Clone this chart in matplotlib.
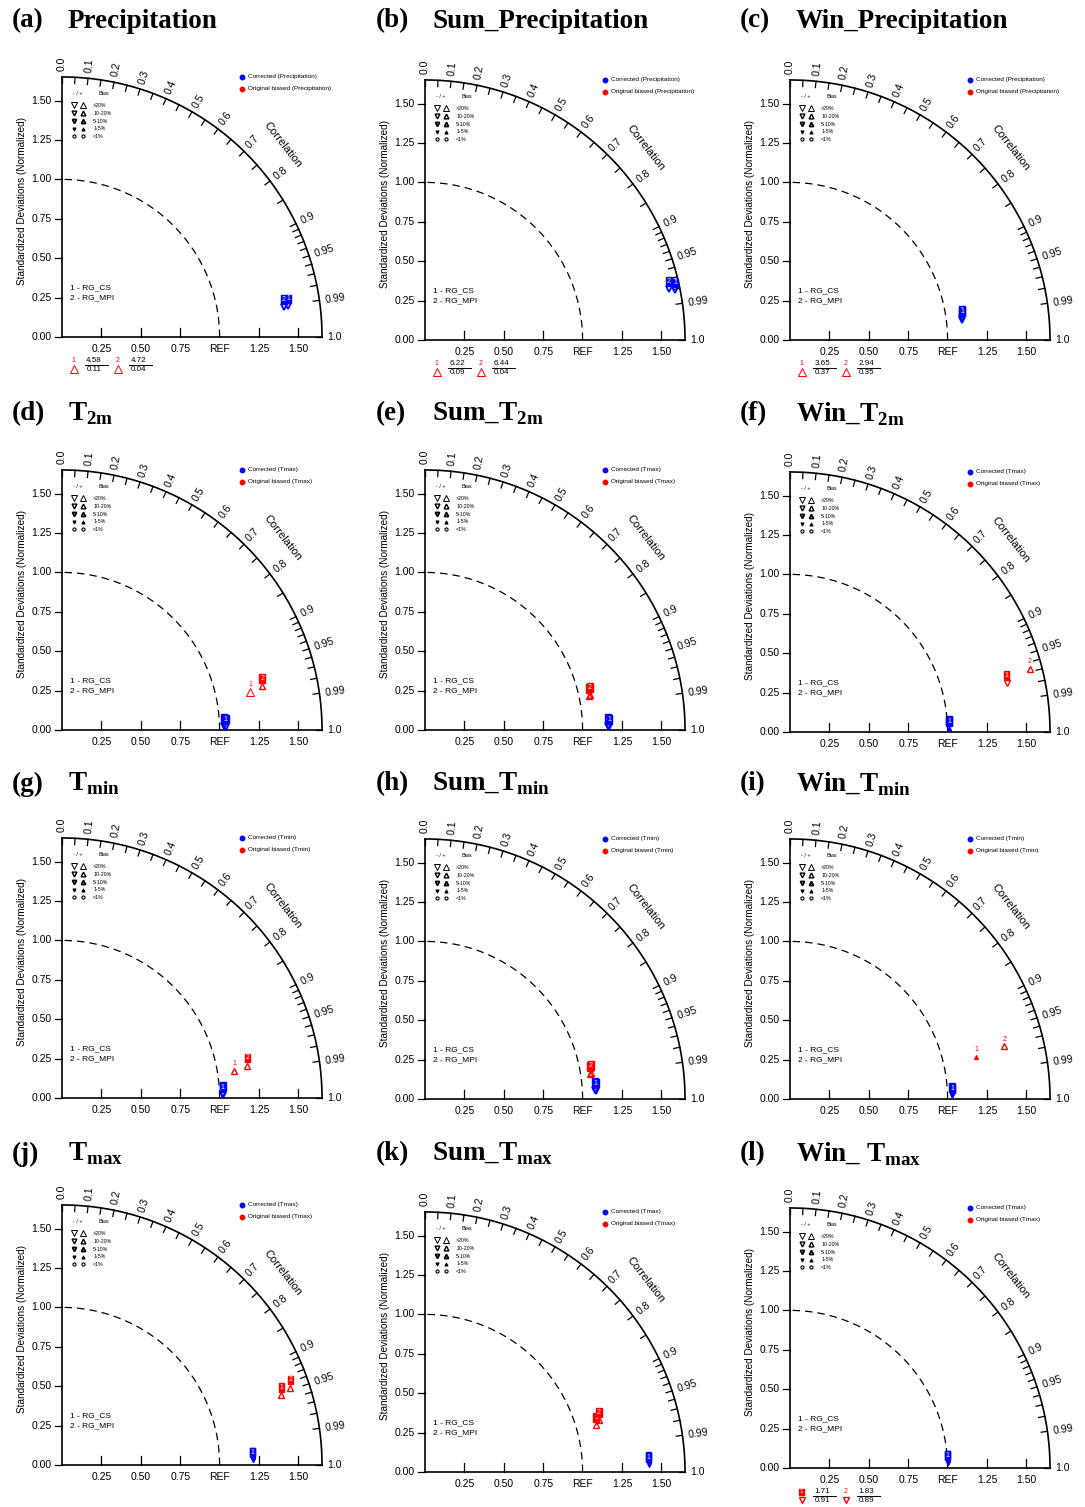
import numpy as np
import matplotlib.pyplot as plt

plt.rcParams['font.family'] = ['Liberation Sans', 'DejaVu Sans']
plt.rcParams['mathtext.fontset'] = 'custom'
plt.rcParams['mathtext.rm'] = 'Liberation Serif:bold'
plt.rcParams['mathtext.bf'] = 'Liberation Serif:bold'

W, H = 1085, 1507
S = 157.6          # pixels per unit of normalized std
RMAX = 1.65

letters = ['(a)', '(b)', '(c)', '(d)', '(e)', '(f)',
           '(g)', '(h)', '(i)', '(j)', '(k)', '(l)']
titles = ['Precipitation', 'Sum_Precipitation', 'Win_Precipitation',
          r'$\mathbf{T}_{\mathbf{2m}}$', r'Sum_$\mathbf{T}_{\mathbf{2m}}$', r'Win_$\mathbf{T}_{\mathbf{2m}}$',
          r'$\mathbf{T}_{\mathbf{min}}$', r'Sum_$\mathbf{T}_{\mathbf{min}}$', r'Win_$\mathbf{T}_{\mathbf{min}}$',
          r'$\mathbf{T}_{\mathbf{max}}$', r'Sum_$\mathbf{T}_{\mathbf{max}}$', r'Win_ $\mathbf{T}_{\mathbf{max}}$']
varnames = ['Precipitation'] * 3 + ['Tmax'] * 3 + ['Tmin'] * 3 + ['Tmax'] * 3
cases = ['RG_CS', 'RG_MPI']

# corrected (blue): normalized std, correlation, bias %
blue_std = [[1.45, 1.42], [1.62, 1.58], [1.10, 1.10],
            [1.04, 1.03], [1.17, 1.16], [1.01, 1.01],
            [1.02, 1.02], [1.085, 1.08], [1.03, 1.03],
            [1.21, 1.21], [1.42, 1.42], [1.00, 1.00]]
blue_cc = [[0.991, 0.991], [0.981, 0.979], [0.993, 0.992],
           [0.9998, 0.9997], [0.9999, 0.9998], [0.9998, 0.9997],
           [0.9998, 0.9997], [0.9988, 0.9985], [0.9998, 0.9997],
           [0.9997, 0.9996], [0.9995, 0.9994], [0.9995, 0.9994]]
blue_bias = [[-7, -7], [-7, -7], [-7, -7],
             [-8, -8], [-8, -8], [3, 3],
             [-8, -8], [-8, -8], [-3, -3],
             [-3, -3], [-3, -3], [-3, -3]]

# original biased (red)
red_std = [[4.58, 4.72], [6.22, 6.44], [3.65, 2.94],
           [1.22, 1.30], [1.06, 1.07], [1.41, 1.575],
           [1.107, 1.194], [1.06, 1.065], [1.21, 1.40],
           [1.46, 1.53], [1.126, 1.152], [1.71, 1.83]]
red_cc = [[0.11, 0.04], [0.09, 0.04], [0.37, 0.35],
          [0.980, 0.977], [0.979, 0.978], [0.975, 0.967],
          [0.988, 0.985], [0.989, 0.988], [0.975, 0.971],
          [0.953, 0.947], [0.964, 0.958], [0.91, 0.89]]
red_bias = [[45, 50], [40, 45], [30, 30],
            [22, 12], [15, 15], [-15, 15],
            [15, 12], [15, 15], [3, 15],
            [15, 15], [15, 15], [-15, -15]]
red_boxed = [[False, False], [False, False], [False, False],
             [False, True], [True, True], [True, False],
             [False, True], [True, True], [False, False],
             [True, True], [True, True], [True, False]]

# origin of each diagram in pixels (x from left, y from top)
origins = [(62, 337), (425, 340), (790, 340),
           (62, 730), (425, 730), (790, 732),
           (62, 1098), (425, 1099), (790, 1099),
           (62, 1465), (425, 1472), (790, 1468)]

std_ticks = [0.0, 0.25, 0.5, 0.75, 1.0, 1.25, 1.5]
x_ticks = [0.25, 0.5, 0.75, 1.0, 1.25, 1.5]
x_labels = ['0.25', '0.50', '0.75', 'REF', '1.25', '1.50']
cc_major = [0.0, 0.1, 0.2, 0.3, 0.4, 0.5, 0.6, 0.7, 0.8, 0.9, 0.95, 0.99, 1.0]
cc_labels = ['0.0', '0.1', '0.2', '0.3', '0.4', '0.5', '0.6', '0.7', '0.8', '0.9', '0.95', '0.99', '1.0']
cc_minor = [0.05, 0.15, 0.25, 0.35, 0.45, 0.55, 0.65, 0.75, 0.85,
            0.91, 0.92, 0.93, 0.94, 0.96, 0.97, 0.98]

bias_rows = ['>20%', '10-20%', '5-10%', '1-5%', '<1%']
bias_vals = [25, 15, 7, 3, 0]


def mstyle(b, k=1.0):
    a = abs(b)
    if a < 1:
        return dict(marker='o', ms=3.0 * k, mfc='none', mew=0.8)
    m = '^' if b > 0 else 'v'
    if a > 20:
        return dict(marker=m, ms=5.5 * k, mfc='none', mew=0.7)
    if a > 10:
        return dict(marker=m, ms=4.6 * k, mfc='none', mew=1.0)
    if a > 5:
        return dict(marker=m, ms=3.9 * k, mfc='none', mew=1.3)
    return dict(marker=m, ms=3.0 * k, mew=0.7)


def case_label(ax, x, y, num, col, boxed):
    if boxed:
        ax.text(x, y + 0.048, str(num), color='white', fontsize=5, ha='center', va='center',
                bbox=dict(boxstyle='square,pad=0.12', fc=col, ec=col))
    else:
        ax.text(x, y + 0.045, str(num), color=col, fontsize=5, ha='center', va='center')


fig = plt.figure(figsize=(W / 100, H / 100), dpi=100)

for p in range(12):
    ox, oy = origins[p]
    x0, x1, y0, y1 = -0.45, 1.9, -0.3, 1.95
    left = (ox + x0 * S) / W
    bottom = (H - oy + y0 * S) / H
    ax = fig.add_axes([left, bottom, (x1 - x0) * S / W, (y1 - y0) * S / H])
    ax.set_xlim(x0, x1)
    ax.set_ylim(y0, y1)
    ax.set_facecolor('none')
    ax.axis('off')

    th = np.linspace(0, np.pi / 2, 300)
    ax.plot(RMAX * np.cos(th), RMAX * np.sin(th), color='k', lw=1.2)
    ax.plot(np.cos(th), np.sin(th), color='k', lw=0.9, ls=(0, (6, 4)))
    ax.plot([0, 0], [0, RMAX], color='k', lw=1.2)
    ax.plot([0, RMAX], [0, 0], color='k', lw=1.2)

    for v in std_ticks:
        ax.plot([-0.045, 0], [v, v], color='k', lw=0.9)
        ax.text(-0.065, v, f'{v:.2f}', ha='right', va='center', fontsize=7.5)
    for v, lab in zip(x_ticks, x_labels):
        if lab != 'REF':
            ax.plot([v, v], [0, 0.055], color='k', lw=0.9)
        ax.text(v, -0.045, lab, ha='center', va='top', fontsize=7.5)

    for c in cc_major + cc_minor:
        a = np.arccos(c)
        ax.plot([RMAX * np.cos(a), (RMAX - 0.04) * np.cos(a)],
                [RMAX * np.sin(a), (RMAX - 0.04) * np.sin(a)], color='k', lw=0.9)
    for c, lab in zip(cc_major, cc_labels):
        a = np.arccos(c)
        ax.text(1.685 * np.cos(a), 1.685 * np.sin(a), lab, fontsize=7.5,
                rotation=np.degrees(a), rotation_mode='anchor', ha='left', va='center')
    ax.text(1.40, 1.22, 'Correlation', fontsize=8, rotation=-52,
            ha='center', va='center')

    ax.text(-0.255, 0.86, 'Standardized Deviations (Normalized)', rotation=90,
            ha='center', va='center', fontsize=7.2)

    # legends
    ax.plot(1.14, 1.65, 'o', color='#0000ff', ms=3.2)
    ax.plot(1.14, 1.574, 'o', color='#ff0000', ms=3.2)
    ax.text(1.178, 1.65, f'Corrected ({varnames[p]})', fontsize=4.6, va='center')
    ax.text(1.178, 1.574, f'Original biased ({varnames[p]})', fontsize=4.6, va='center')

    ax.text(0.097, 1.546, '- / +', fontsize=4, ha='center', va='center')
    ax.text(0.23, 1.546, 'Bias', fontsize=4, ha='left', va='center')
    for yy, lab, bv in zip([1.47, 1.42, 1.37, 1.32, 1.275], bias_rows, bias_vals):
        ax.plot(0.076, yy, color='k', ls='none', **mstyle(-bv if bv else 0, 0.75))
        ax.plot(0.135, yy, color='k', ls='none', **mstyle(bv, 0.75))
        ax.text(0.198, yy, lab, fontsize=3.8, ha='left', va='center')

    ax.text(0.05, 0.31, f'1 - {cases[0]}', fontsize=6, va='center')
    ax.text(0.05, 0.25, f'2 - {cases[1]}', fontsize=6, va='center')

    # points (red cases drawn 1 then 2, blue cases 2 then 1 so case 1 sits on top)
    k_out = 0
    for std, cc, bias, col, boxed, order in [
            (red_std[p], red_cc[p], red_bias[p], '#ff0000', red_boxed[p], [0, 1]),
            (blue_std[p], blue_cc[p], blue_bias[p], '#0000ff', [True, True], [1, 0])]:
        for i in order:
            a = np.arccos(cc[i])
            if std[i] <= RMAX:
                x, y = std[i] * np.cos(a), std[i] * np.sin(a)
                ax.plot(x, y, color=col, ls='none', **mstyle(bias[i]))
                case_label(ax, x, y, i + 1, col, boxed[i])
            else:
                fx = 0.074 + 0.28 * k_out
                k_out += 1
                if boxed[i]:
                    ax.text(fx, -0.152, str(i + 1), color='white', fontsize=4.5, ha='center',
                            va='center', bbox=dict(boxstyle='square,pad=0.1', fc=col, ec=col))
                else:
                    ax.text(fx, -0.152, str(i + 1), color=col, fontsize=5, ha='center', va='center')
                ax.plot(fx, -0.2, color=col, ls='none', **mstyle(bias[i]))
                ax.text(fx + 0.08, -0.146, f'{std[i]:.2f}', fontsize=5.8, ha='left', va='center')
                ax.plot([fx + 0.07, fx + 0.215], [-0.176, -0.176], color='k', lw=0.7)
                ax.text(fx + 0.08, -0.207, f'{cc[i]:.2f}', fontsize=5.8, ha='left', va='center')

# titles
col_x = [12, 376, 740]
row_y = [21, 414, 784, 1154]
for p in range(12):
    r, c = divmod(p, 3)
    fig.text(col_x[c] / W, 1 - row_y[r] / H, letters[p], fontsize=19.5, fontweight='bold',
             family='Liberation Serif', va='center', ha='left')
    fig.text((col_x[c] + 56) / W, 1 - row_y[r] / H, titles[p], fontsize=19.5, fontweight='bold',
             family='Liberation Serif', va='center', ha='left')

fig.savefig('out.png', dpi=100)
